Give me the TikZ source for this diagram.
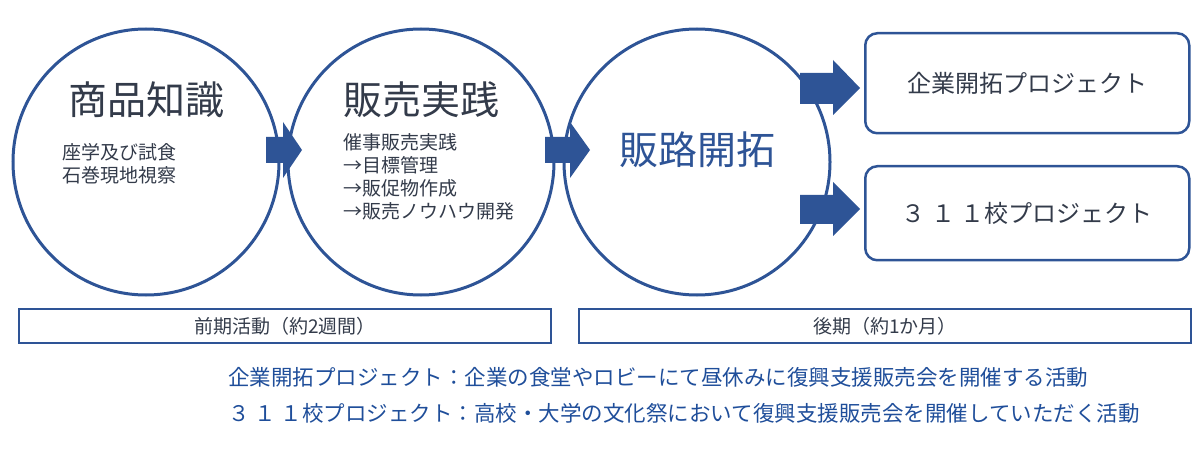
\documentclass[tikz,border=0pt]{standalone}
\usepackage{fontspec}
\setmainfont{Noto Sans CJK JP}
\definecolor{navy}{HTML}{2E5496}
\definecolor{txt}{HTML}{333B4A}
\definecolor{bluet}{HTML}{1F4E9A}
\begin{document}
\begin{tikzpicture}[x=1pt,y=-1pt,
  circ/.style={draw=navy,line width=3pt,fill=white,circle,minimum size=266pt,inner sep=0pt},
  rbox/.style={draw=navy,line width=2.5pt,rounded corners=12pt,fill=white,minimum width=324pt,anchor=north west,text=txt,font=\fontsize{24}{28}\selectfont},
  bar/.style={draw=navy,line width=2pt,minimum height=34pt,anchor=north west,text=txt,font=\fontsize{19}{22}\selectfont},
  arr/.style={fill=navy},
  big/.style={font=\fontsize{39}{44}\selectfont,text=txt},
  small/.style={font=\fontsize{19}{23}\selectfont,text=txt,align=left,inner sep=0pt},
  note/.style={font=\fontsize{21.5}{26}\selectfont,text=bluet,anchor=west,inner sep=0pt}]
\useasboundingbox (0,0) rectangle (1200,457);
\node[circ] (c1) at (146,162) {};
\node[circ] (c2) at (421,162) {};
\fill[arr] (266,137)--(283,137)--(283,122)--(302,150)--(283,178)--(283,163)--(266,163)--cycle;
\node[circ] (c3) at (697,162) {};
\fill[arr] (545,137)--(570,137)--(570,122)--(590,150)--(570,178)--(570,163)--(545,163)--cycle;
\fill[arr] (800,73)--(833,73)--(833,60)--(860,88)--(833,115)--(833,104)--(800,104)--cycle;
\fill[arr] (800,195)--(833,195)--(833,182)--(860,209)--(833,236)--(833,224)--(800,224)--cycle;
\node[big] (t1) at (146,100) {商品知識};
\node[small,anchor=north west] (s1) at (62,143) {座学及び試食\\石巻現地視察};
\node[big] (t2) at (421,100) {販売実践};
\node[small,anchor=north west] (s2) at (343,133) {催事販売実践\\→目標管理\\→販促物作成\\→販売ノウハウ開発};
\node[big,text=navy] (t3) at (697,150) {販路開拓};
\node[rbox,minimum height=100pt] (b1) at (864,32) {企業開拓プロジェクト};
\node[rbox,minimum height=94pt] (b2) at (864,165) {３ １ １校プロジェクト};
\node[bar,minimum width=532pt] (p1) at (18,308) {前期活動（約2週間）};
\node[bar,minimum width=612pt] (p2) at (578,308) {後期（約1か月）};
\node[note] (n1) at (228,377) {企業開拓プロジェクト：企業の食堂やロビーにて昼休みに復興支援販売会を開催する活動};
\node[note] (n2) at (228,413) {３ １ １校プロジェクト：高校・大学の文化祭において復興支援販売会を開催していただく活動};
\end{tikzpicture}
\end{document}
